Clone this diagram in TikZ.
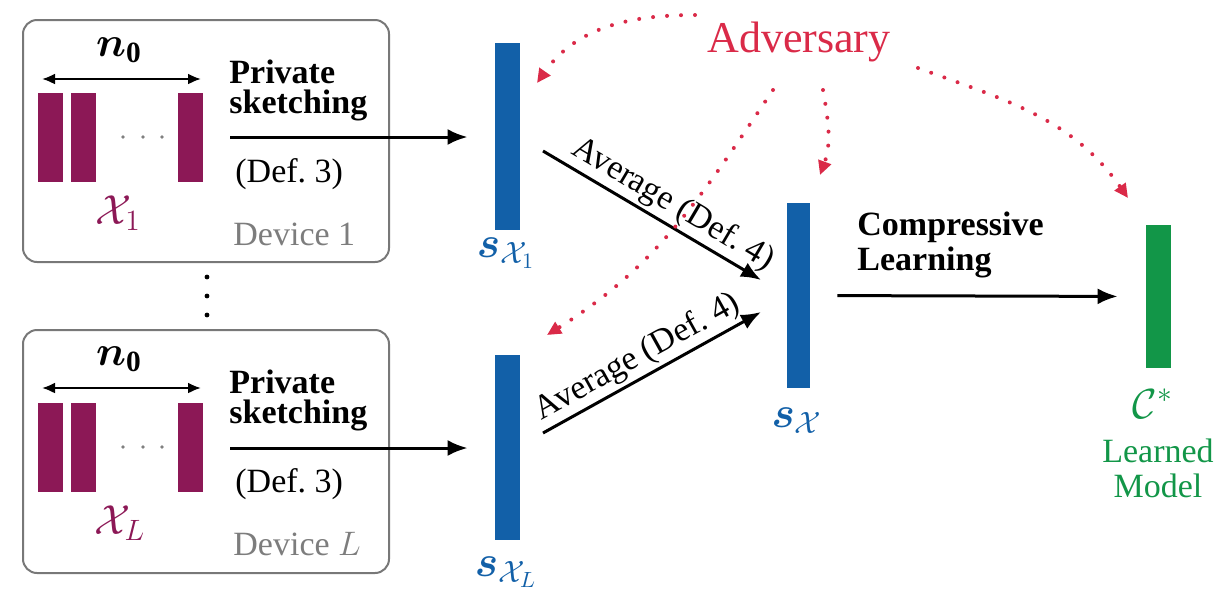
\RequirePackage{fix-cm}
\documentclass[tikz,border=0pt]{standalone}
\usepackage{amsmath}
\usepackage{fontspec}
\setmainfont{Liberation Serif}
\usetikzlibrary{arrows.meta}
\definecolor{mypurple}{RGB}{140,24,86}
\definecolor{myblue}{RGB}{18,96,168}
\definecolor{mygreen}{RGB}{18,150,72}
\definecolor{myred}{RGB}{218,42,72}
\definecolor{boxgray}{RGB}{120,120,120}
\definecolor{txtgray}{RGB}{125,125,125}
\begin{document}
\begin{tikzpicture}[x=0.5pt,y=-0.5pt,
  purplebar/.style={fill=mypurple, draw=none, minimum width=12.5pt, minimum height=44.5pt, inner sep=0pt},
  bluebar/.style={fill=myblue, draw=none, minimum width=12.5pt, inner sep=0pt},
  greenbar/.style={fill=mygreen, draw=none, minimum width=12.5pt, inner sep=0pt},
  devbox/.style={draw=boxgray, line width=1pt, rounded corners=7pt, minimum width=183pt, inner sep=0pt},
  arr/.style={-{Latex[length=10pt,width=8pt]}, line width=1.5pt},
  dimarr/.style={{Latex[length=6.5pt,width=5.5pt]}-{Latex[length=6.5pt,width=5.5pt]}, line width=1.1pt},
  advarr/.style={myred, line width=2pt, line cap=round, dash pattern=on 0pt off 7pt, -{Triangle[length=7pt,width=6.5pt]}},
  boldlbl/.style={font=\fontsize{17}{17}\selectfont\bfseries, inner sep=0pt},
  lbl/.style={font=\fontsize{17}{17}\selectfont, inner sep=0pt},
  graylbl/.style={font=\fontsize{17}{17}\selectfont, text=txtgray, inner sep=0pt},
  mathlbl/.style={font=\fontsize{21}{24}\selectfont, inner sep=0pt},
  slbl/.style={font=\fontsize{22}{25}\selectfont, text=myblue, inner sep=0pt},
  smalldot/.style={fill=gray},
  bigdot/.style={fill=black}
]
\useasboundingbox (0,0) rectangle (1220,590);

% ---------- device boxes ----------
\node[devbox, minimum height=121pt] (dev1) at (206,141) {};
\node[devbox, minimum height=121.5pt] (devL) at (206,451.5) {};

% ---------- device 1 ----------
\node[purplebar] (p1a) at (50.5,137.5) {};
\node[purplebar] (p1b) at (83.5,137.5) {};
\node[purplebar] (p1c) at (190.5,137.5) {};
\fill[smalldot] (123,137) circle (0.9pt) (143,137) circle (0.9pt) (162,137) circle (0.9pt);
\coordinate (n1l) at (42,79);
\coordinate (n1r) at (201,79);
\draw[dimarr] (n1l) -- (n1r);
\node[mathlbl, anchor=base] (n1) at (119,56) {$\boldsymbol{n}_{\mathbf{0}}$};
\node[mathlbl, anchor=base, text=mypurple] (x1) at (118,224) {$\mathcal{X}_1$};
\node[boldlbl, anchor=base west] (ps1a) at (229,83) {Private};
\node[boldlbl, anchor=base west] (ps1b) at (229,113) {sketching};
\node[lbl, anchor=base west] (d31) at (235,182) {(Def.~3)};
\node[graylbl, anchor=base west] (dv1) at (233,245) {Device 1};

% ---------- vertical dots ----------
\fill[bigdot] (207,277) circle (1.2pt) (207,296) circle (1.2pt) (207,315) circle (1.2pt);

% ---------- device L ----------
\node[purplebar] (pLa) at (50.5,447.5) {};
\node[purplebar] (pLb) at (83.5,447.5) {};
\node[purplebar] (pLc) at (190.5,447.5) {};
\fill[smalldot] (123,447) circle (0.9pt) (143,447) circle (0.9pt) (162,447) circle (0.9pt);
\coordinate (nLl) at (42,388);
\coordinate (nLr) at (201,388);
\draw[dimarr] (nLl) -- (nLr);
\node[mathlbl, anchor=base] (nL) at (119,365) {$\boldsymbol{n}_{\mathbf{0}}$};
\node[mathlbl, anchor=base, text=mypurple] (xL) at (120,534) {$\mathcal{X}_L$};
\node[boldlbl, anchor=base west] (psLa) at (229,393) {Private};
\node[boldlbl, anchor=base west] (psLb) at (229,423) {sketching};
\node[lbl, anchor=base west] (d3L) at (235,492) {(Def.~3)};
\node[graylbl, anchor=base west] (dvL) at (233,555) {Device $L$};

% ---------- sketches ----------
\node[bluebar, minimum height=93.5pt] (sx1) at (507.5,136.5) {};
\node[bluebar, minimum height=92.5pt] (sxL) at (507.5,447.5) {};
\node[bluebar, minimum width=11.5pt, minimum height=92.5pt] (sx) at (798.5,295.5) {};
\node[greenbar, minimum height=71.5pt] (cs) at (1158.5,296.5) {};

\node[slbl, anchor=base] (lsx1) at (506,257) {$\boldsymbol{s}_{\mathcal{X}_1}$};
\node[slbl, anchor=base] (lsxL) at (506,576) {$\boldsymbol{s}_{\mathcal{X}_L}$};
\node[slbl, anchor=base] (lsx) at (797,427) {$\boldsymbol{s}_{\mathcal{X}}$};

% ---------- private sketching arrows ----------
\coordinate (ps1s) at (230,137);
\coordinate (psLs) at (230,448);
\draw[arr, shorten >=13.5pt] (ps1s) -- (sx1.west |- ps1s);
\draw[arr, shorten >=13.5pt] (psLs) -- (sxL.west |- psLs);

% ---------- average arrows ----------
\coordinate (av1s) at (543,151);
\coordinate (av1e) at (761,280);
\coordinate (avLs) at (543,433);
\coordinate (avLe) at (761,312);
\draw[arr] (av1s) -- node[lbl, pos=0.55, sloped, above, inner sep=1.5pt] (av1l) {Average (Def.~4)} (av1e);
\draw[arr] (avLs) -- node[lbl, pos=0.48, sloped, above, inner sep=1.5pt] (avLl) {Average (Def.~4)} (avLe);

% ---------- compressive learning ----------
\draw[arr, shorten <=13.5pt, shorten >=14pt] (sx.east) -- (cs.west);
\node[boldlbl, anchor=base west] (cl1) at (857,235) {Compressive};
\node[boldlbl, anchor=base west] (cl2) at (857,270) {Learning};

\node[mathlbl, anchor=base, text=mygreen] (cst) at (1153,418) {$\mathcal{C}^*$};
\node[lbl, anchor=base, text=mygreen] (lm1) at (1158,462) {Learned};
\node[lbl, anchor=base, text=mygreen] (lm2) at (1158,497) {Model};

% ---------- adversary ----------
\node[font=\fontsize{22}{24}\selectfont, text=myred, inner sep=0pt, anchor=base] (adv) at (799,52) {Adversary};
\coordinate (a1) at (695,15);
\coordinate (t1) at (537,83);
\coordinate (a2) at (773,90);
\coordinate (t2) at (547,335);
\coordinate (a3) at (823,90);
\coordinate (t3) at (820,175);
\coordinate (a4) at (918,68);
\coordinate (t4) at (1128,198);
\draw[advarr] (a1) to[out=180,in=55] (t1);
\draw[advarr] (a2) to[out=236,in=32] (t2);
\draw[advarr] (a3) to[out=-80,in=70] (t3);
\draw[advarr] (a4) to[out=-20,in=125] (t4);
\end{tikzpicture}
\end{document}
